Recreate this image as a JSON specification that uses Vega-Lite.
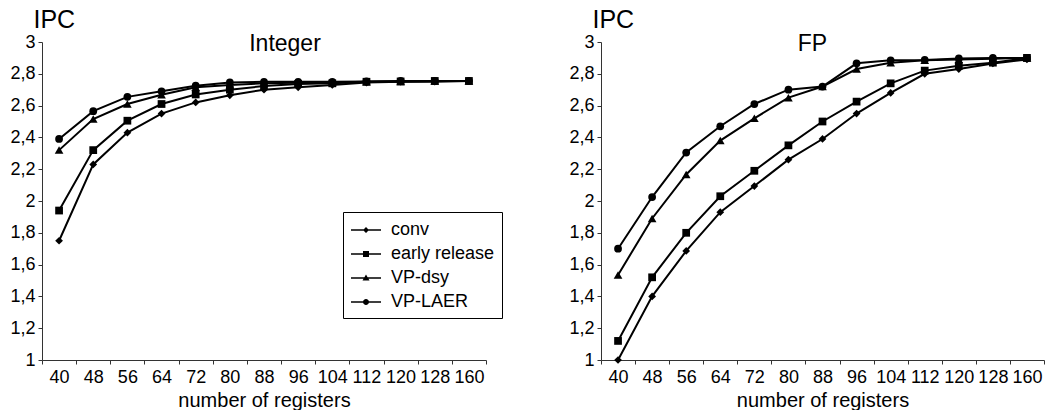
{
  "$schema": "https://vega.github.io/schema/vega-lite/v6.json",
  "padding": {"left": 9, "top": 7, "right": 0, "bottom": 0},
  "background": "white",
  "config": {
    "view": {"stroke": null},
    "font": "Liberation Sans",
    "axis": {
      "grid": false,
      "domainColor": "#333",
      "tickColor": "#333",
      "tickSize": 4,
      "labelFont": "Liberation Sans",
      "labelFontSize": 18,
      "labelColor": "black",
      "titleFont": "Liberation Sans",
      "titleColor": "black",
      "titleFontWeight": "normal"
    }
  },
  "data": {
    "values": [
      {"panel": "Integer", "series": "conv", "reg": 40, "ipc": 1.75},
      {"panel": "Integer", "series": "conv", "reg": 48, "ipc": 2.23},
      {"panel": "Integer", "series": "conv", "reg": 56, "ipc": 2.43},
      {"panel": "Integer", "series": "conv", "reg": 64, "ipc": 2.55},
      {"panel": "Integer", "series": "conv", "reg": 72, "ipc": 2.62},
      {"panel": "Integer", "series": "conv", "reg": 80, "ipc": 2.665},
      {"panel": "Integer", "series": "conv", "reg": 88, "ipc": 2.7},
      {"panel": "Integer", "series": "conv", "reg": 96, "ipc": 2.715},
      {"panel": "Integer", "series": "conv", "reg": 104, "ipc": 2.73},
      {"panel": "Integer", "series": "conv", "reg": 112, "ipc": 2.745},
      {"panel": "Integer", "series": "conv", "reg": 120, "ipc": 2.75},
      {"panel": "Integer", "series": "conv", "reg": 128, "ipc": 2.75},
      {"panel": "Integer", "series": "conv", "reg": 160, "ipc": 2.755},
      {"panel": "Integer", "series": "early release", "reg": 40, "ipc": 1.94},
      {"panel": "Integer", "series": "early release", "reg": 48, "ipc": 2.32},
      {"panel": "Integer", "series": "early release", "reg": 56, "ipc": 2.505},
      {"panel": "Integer", "series": "early release", "reg": 64, "ipc": 2.61},
      {"panel": "Integer", "series": "early release", "reg": 72, "ipc": 2.67},
      {"panel": "Integer", "series": "early release", "reg": 80, "ipc": 2.7},
      {"panel": "Integer", "series": "early release", "reg": 88, "ipc": 2.723},
      {"panel": "Integer", "series": "early release", "reg": 96, "ipc": 2.736},
      {"panel": "Integer", "series": "early release", "reg": 104, "ipc": 2.74},
      {"panel": "Integer", "series": "early release", "reg": 112, "ipc": 2.75},
      {"panel": "Integer", "series": "early release", "reg": 120, "ipc": 2.752},
      {"panel": "Integer", "series": "early release", "reg": 128, "ipc": 2.755},
      {"panel": "Integer", "series": "early release", "reg": 160, "ipc": 2.755},
      {"panel": "Integer", "series": "VP-dsy", "reg": 40, "ipc": 2.32},
      {"panel": "Integer", "series": "VP-dsy", "reg": 48, "ipc": 2.515},
      {"panel": "Integer", "series": "VP-dsy", "reg": 56, "ipc": 2.61},
      {"panel": "Integer", "series": "VP-dsy", "reg": 64, "ipc": 2.668},
      {"panel": "Integer", "series": "VP-dsy", "reg": 72, "ipc": 2.715},
      {"panel": "Integer", "series": "VP-dsy", "reg": 80, "ipc": 2.73},
      {"panel": "Integer", "series": "VP-dsy", "reg": 88, "ipc": 2.74},
      {"panel": "Integer", "series": "VP-dsy", "reg": 96, "ipc": 2.744},
      {"panel": "Integer", "series": "VP-dsy", "reg": 104, "ipc": 2.745},
      {"panel": "Integer", "series": "VP-dsy", "reg": 112, "ipc": 2.75},
      {"panel": "Integer", "series": "VP-dsy", "reg": 120, "ipc": 2.752},
      {"panel": "Integer", "series": "VP-dsy", "reg": 128, "ipc": 2.755},
      {"panel": "Integer", "series": "VP-dsy", "reg": 160, "ipc": 2.755},
      {"panel": "Integer", "series": "VP-LAER", "reg": 40, "ipc": 2.39},
      {"panel": "Integer", "series": "VP-LAER", "reg": 48, "ipc": 2.565},
      {"panel": "Integer", "series": "VP-LAER", "reg": 56, "ipc": 2.655},
      {"panel": "Integer", "series": "VP-LAER", "reg": 64, "ipc": 2.69},
      {"panel": "Integer", "series": "VP-LAER", "reg": 72, "ipc": 2.725},
      {"panel": "Integer", "series": "VP-LAER", "reg": 80, "ipc": 2.746},
      {"panel": "Integer", "series": "VP-LAER", "reg": 88, "ipc": 2.75},
      {"panel": "Integer", "series": "VP-LAER", "reg": 96, "ipc": 2.75},
      {"panel": "Integer", "series": "VP-LAER", "reg": 104, "ipc": 2.75},
      {"panel": "Integer", "series": "VP-LAER", "reg": 112, "ipc": 2.752},
      {"panel": "Integer", "series": "VP-LAER", "reg": 120, "ipc": 2.755},
      {"panel": "Integer", "series": "VP-LAER", "reg": 128, "ipc": 2.755},
      {"panel": "Integer", "series": "VP-LAER", "reg": 160, "ipc": 2.755},
      {"panel": "FP", "series": "conv", "reg": 40, "ipc": 1.0},
      {"panel": "FP", "series": "conv", "reg": 48, "ipc": 1.4},
      {"panel": "FP", "series": "conv", "reg": 56, "ipc": 1.686},
      {"panel": "FP", "series": "conv", "reg": 64, "ipc": 1.93},
      {"panel": "FP", "series": "conv", "reg": 72, "ipc": 2.094},
      {"panel": "FP", "series": "conv", "reg": 80, "ipc": 2.26},
      {"panel": "FP", "series": "conv", "reg": 88, "ipc": 2.39},
      {"panel": "FP", "series": "conv", "reg": 96, "ipc": 2.55},
      {"panel": "FP", "series": "conv", "reg": 104, "ipc": 2.68},
      {"panel": "FP", "series": "conv", "reg": 112, "ipc": 2.8},
      {"panel": "FP", "series": "conv", "reg": 120, "ipc": 2.83},
      {"panel": "FP", "series": "conv", "reg": 128, "ipc": 2.865},
      {"panel": "FP", "series": "conv", "reg": 160, "ipc": 2.89},
      {"panel": "FP", "series": "early release", "reg": 40, "ipc": 1.12},
      {"panel": "FP", "series": "early release", "reg": 48, "ipc": 1.52},
      {"panel": "FP", "series": "early release", "reg": 56, "ipc": 1.8},
      {"panel": "FP", "series": "early release", "reg": 64, "ipc": 2.03},
      {"panel": "FP", "series": "early release", "reg": 72, "ipc": 2.19},
      {"panel": "FP", "series": "early release", "reg": 80, "ipc": 2.35},
      {"panel": "FP", "series": "early release", "reg": 88, "ipc": 2.5},
      {"panel": "FP", "series": "early release", "reg": 96, "ipc": 2.625},
      {"panel": "FP", "series": "early release", "reg": 104, "ipc": 2.74},
      {"panel": "FP", "series": "early release", "reg": 112, "ipc": 2.82},
      {"panel": "FP", "series": "early release", "reg": 120, "ipc": 2.85},
      {"panel": "FP", "series": "early release", "reg": 128, "ipc": 2.87},
      {"panel": "FP", "series": "early release", "reg": 160, "ipc": 2.9},
      {"panel": "FP", "series": "VP-dsy", "reg": 40, "ipc": 1.535},
      {"panel": "FP", "series": "VP-dsy", "reg": 48, "ipc": 1.89},
      {"panel": "FP", "series": "VP-dsy", "reg": 56, "ipc": 2.167},
      {"panel": "FP", "series": "VP-dsy", "reg": 64, "ipc": 2.38},
      {"panel": "FP", "series": "VP-dsy", "reg": 72, "ipc": 2.52},
      {"panel": "FP", "series": "VP-dsy", "reg": 80, "ipc": 2.65},
      {"panel": "FP", "series": "VP-dsy", "reg": 88, "ipc": 2.72},
      {"panel": "FP", "series": "VP-dsy", "reg": 96, "ipc": 2.83},
      {"panel": "FP", "series": "VP-dsy", "reg": 104, "ipc": 2.87},
      {"panel": "FP", "series": "VP-dsy", "reg": 112, "ipc": 2.885},
      {"panel": "FP", "series": "VP-dsy", "reg": 120, "ipc": 2.89},
      {"panel": "FP", "series": "VP-dsy", "reg": 128, "ipc": 2.895},
      {"panel": "FP", "series": "VP-dsy", "reg": 160, "ipc": 2.9},
      {"panel": "FP", "series": "VP-LAER", "reg": 40, "ipc": 1.7},
      {"panel": "FP", "series": "VP-LAER", "reg": 48, "ipc": 2.025},
      {"panel": "FP", "series": "VP-LAER", "reg": 56, "ipc": 2.305},
      {"panel": "FP", "series": "VP-LAER", "reg": 64, "ipc": 2.47},
      {"panel": "FP", "series": "VP-LAER", "reg": 72, "ipc": 2.61},
      {"panel": "FP", "series": "VP-LAER", "reg": 80, "ipc": 2.7},
      {"panel": "FP", "series": "VP-LAER", "reg": 88, "ipc": 2.72},
      {"panel": "FP", "series": "VP-LAER", "reg": 96, "ipc": 2.866},
      {"panel": "FP", "series": "VP-LAER", "reg": 104, "ipc": 2.885},
      {"panel": "FP", "series": "VP-LAER", "reg": 112, "ipc": 2.887},
      {"panel": "FP", "series": "VP-LAER", "reg": 120, "ipc": 2.897},
      {"panel": "FP", "series": "VP-LAER", "reg": 128, "ipc": 2.9},
      {"panel": "FP", "series": "VP-LAER", "reg": 160, "ipc": 2.9}
    ]
  },
  "spacing": 81,
  "hconcat": [
    {
      "width": 444,
      "height": 318,
      "title": {"text": "Integer", "frame": "group", "anchor": "middle", "dx": 21, "offset": -67, "baseline": "alphabetic", "fontSize": 23, "fontWeight": "normal", "font": "Liberation Sans", "color": "black"},
      "transform": [{"filter": "datum.panel === 'Integer'"}],
      "encoding": {
        "x": {"field": "reg", "type": "ordinal", "scale": {"type": "band", "paddingInner": 0, "paddingOuter": 0},
              "axis": {"title": "number of registers", "titleFontSize": 20, "labelAngle": 0, "tickBand": "extent", "labelPadding": 4, "titlePadding": 4}},
        "y": {"field": "ipc", "type": "quantitative", "scale": {"domain": [1, 3]},
              "axis": {"values": [1, 1.2, 1.4, 1.6, 1.8, 2, 2.2, 2.4, 2.6, 2.8, 3], "labelExpr": "replace(format(datum.value, '.1~f'), '.', ',')", "labelPadding": 3,
                       "title": "IPC", "titleFontSize": 25, "titleAngle": 0, "titleAlign": "left", "titleBaseline": "alphabetic", "titleX": -9, "titleY": -15}}
      },
      "layer": [
        {"mark": {"type": "line", "color": "black", "strokeWidth": 2}, "encoding": {"detail": {"field": "series"}}},
        {"transform": [{"filter": "datum.series === 'conv'"}], "mark": {"type": "point", "shape": "diamond", "filled": true, "color": "black", "size": 60, "opacity": 1}},
        {"transform": [{"filter": "datum.series === 'early release'"}], "mark": {"type": "point", "shape": "square", "filled": true, "color": "black", "size": 60, "opacity": 1}},
        {"transform": [{"filter": "datum.series === 'VP-dsy'"}], "mark": {"type": "point", "shape": "triangle-up", "filled": true, "color": "black", "size": 75, "opacity": 1}},
        {"transform": [{"filter": "datum.series === 'VP-LAER'"}], "mark": {"type": "point", "shape": "circle", "filled": true, "color": "black", "size": 60, "opacity": 1}},
        {"transform": [{"filter": "datum.ipc < 0"}],
         "mark": {"type": "point", "filled": true, "color": "black", "size": 400, "opacity": 1},
         "encoding": {"shape": {"field": "series", "type": "nominal",
           "scale": {"domain": ["conv", "early release", "VP-dsy", "VP-LAER"],
                     "range": ["M-1.5,-0.08H1.5V0.08H-1.5ZM0,-0.3L0.3,0L0,0.3L-0.3,0Z", "M-1.5,-0.08H1.5V0.08H-1.5ZM-0.3,-0.3H0.3V0.3H-0.3Z", "M-1.5,-0.08H1.5V0.08H-1.5ZM0,-0.35L0.35,0.25H-0.35Z", "M-1.5,-0.08H1.5V0.08H-1.5ZM0.3,0A0.3,0.3,0,1,1,-0.3,0A0.3,0.3,0,1,1,0.3,0Z"]},
           "legend": {"orient": "none", "legendX": 301, "legendY": 170, "title": null, "strokeColor": "black", "fillColor": "white", "padding": 7,
                      "labelFontSize": 18, "labelFont": "Liberation Sans", "labelColor": "black", "labelLimit": 300,
                      "symbolSize": 400, "symbolOffset": 5, "labelOffset": 14, "rowPadding": 4,
                      "symbolFillColor": "black",
                      "encode": {"symbols": {"fill": {"value": "black"}, "opacity": {"value": 1}}}}}}}
      ]
    },
    {
      "width": 443,
      "height": 318,
      "title": {"text": "FP", "frame": "group", "anchor": "middle", "dx": -10, "offset": -67, "baseline": "alphabetic", "fontSize": 23, "fontWeight": "normal", "font": "Liberation Sans", "color": "black"},
      "transform": [{"filter": "datum.panel === 'FP'"}],
      "encoding": {
        "x": {"field": "reg", "type": "ordinal", "scale": {"type": "band", "paddingInner": 0, "paddingOuter": 0},
              "axis": {"title": "number of registers", "titleFontSize": 20, "labelAngle": 0, "tickBand": "extent", "labelPadding": 4, "titlePadding": 4}},
        "y": {"field": "ipc", "type": "quantitative", "scale": {"domain": [1, 3]},
              "axis": {"values": [1, 1.2, 1.4, 1.6, 1.8, 2, 2.2, 2.4, 2.6, 2.8, 3], "labelExpr": "replace(format(datum.value, '.1~f'), '.', ',')", "labelPadding": 3,
                       "title": "IPC", "titleFontSize": 25, "titleAngle": 0, "titleAlign": "left", "titleBaseline": "alphabetic", "titleX": -9, "titleY": -15}}
      },
      "layer": [
        {"mark": {"type": "line", "color": "black", "strokeWidth": 2}, "encoding": {"detail": {"field": "series"}}},
        {"transform": [{"filter": "datum.series === 'conv'"}], "mark": {"type": "point", "shape": "diamond", "filled": true, "color": "black", "size": 60, "opacity": 1}},
        {"transform": [{"filter": "datum.series === 'early release'"}], "mark": {"type": "point", "shape": "square", "filled": true, "color": "black", "size": 60, "opacity": 1}},
        {"transform": [{"filter": "datum.series === 'VP-dsy'"}], "mark": {"type": "point", "shape": "triangle-up", "filled": true, "color": "black", "size": 75, "opacity": 1}},
        {"transform": [{"filter": "datum.series === 'VP-LAER'"}], "mark": {"type": "point", "shape": "circle", "filled": true, "color": "black", "size": 60, "opacity": 1}}
      ]
    }
  ]
}
